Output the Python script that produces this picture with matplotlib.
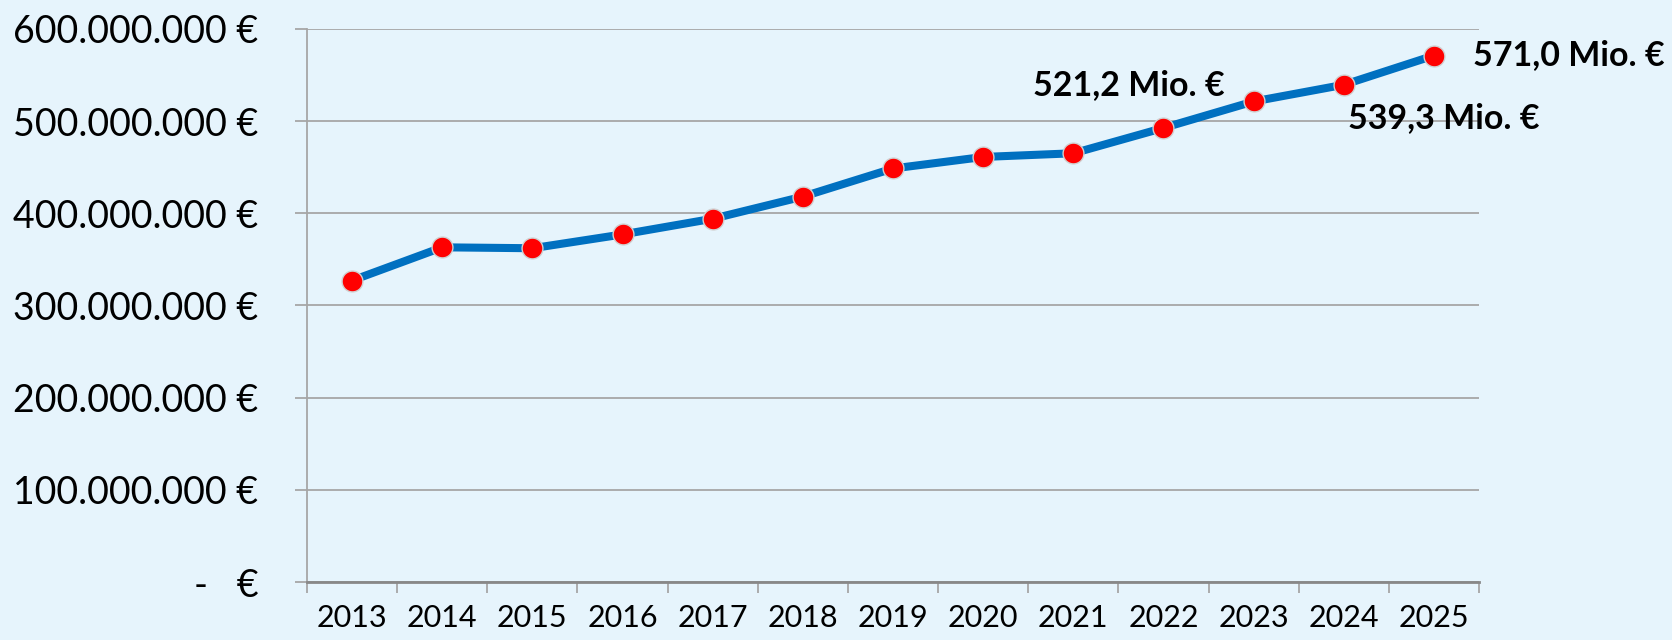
import matplotlib
matplotlib.use("Agg")
import matplotlib.pyplot as plt
from matplotlib.ticker import FuncFormatter, MultipleLocator, FixedLocator

years = ["2013", "2014", "2015", "2016", "2017", "2018", "2019",
         "2020", "2021", "2022", "2023", "2024", "2025"]
values = [327.0, 363.0, 362.0, 377.0, 394.0, 418.0, 448.5,
          461.0, 465.0, 492.5, 521.2, 539.3, 571.0]  # Mio. €

# labelled points: index -> (text, offset in points, ha)
labels = {
    10: ("521,2 Mio. €", (-21, 12), "right"),
    11: ("539,3 Mio. €", (3, -24), "left"),
    12: ("571,0 Mio. €", (28, 0), "left"),
}

bg = "#E6F4FC"
plt.rcParams["font.family"] = ["Lato", "DejaVu Sans"]

fig = plt.figure(figsize=(16.72, 6.4), dpi=100, facecolor=bg)
ax = fig.add_axes([0.1836, 0.0906, 0.701, 0.8644], facecolor=bg)

x = list(range(len(years)))
euros = [v * 1e6 for v in values]
ax.plot(x, euros, color="#0070C0", lw=5.8, zorder=3, solid_joinstyle="round",
        marker="o", markersize=15, markerfacecolor="#FF0000",
        markeredgecolor="#D0D0D0", markeredgewidth=1.0)

for i, (txt, off, ha) in labels.items():
    ax.annotate(txt, (x[i], euros[i]), textcoords="offset points", xytext=off,
                ha=ha, va="center", fontsize=24.5, fontweight="bold", color="black")

ax.set_xlim(-0.5, len(years) - 0.5)
ax.set_ylim(0, 600e6)
ax.yaxis.set_major_locator(MultipleLocator(100e6))


def fmt(v, pos):
    if v == 0:
        return "-   €"
    return f"{int(round(v)):,} €".replace(",", ".")


ax.yaxis.set_major_formatter(FuncFormatter(fmt))
ax.set_xticks(x)
ax.set_xticklabels(years)
ax.xaxis.set_minor_locator(FixedLocator([i - 0.5 for i in range(len(years) + 1)]))

ax.grid(axis="y", color="#A6A6A6", lw=1.3)
ax.set_axisbelow(True)
for s in ("top", "right"):
    ax.spines[s].set_visible(False)
ax.spines["left"].set_color("#A6A6A6")
ax.spines["left"].set_linewidth(1.3)
ax.spines["bottom"].set_color("#888888")
ax.spines["bottom"].set_linewidth(2)

ax.tick_params(axis="y", length=9, width=1.3, color="#A6A6A6", pad=26, labelsize=27)
ax.tick_params(axis="x", which="major", length=0, pad=16, labelsize=22)
ax.tick_params(axis="x", which="minor", length=8, width=1.3, color="#A6A6A6")

fig.savefig("out.png", dpi=100, facecolor=bg)
